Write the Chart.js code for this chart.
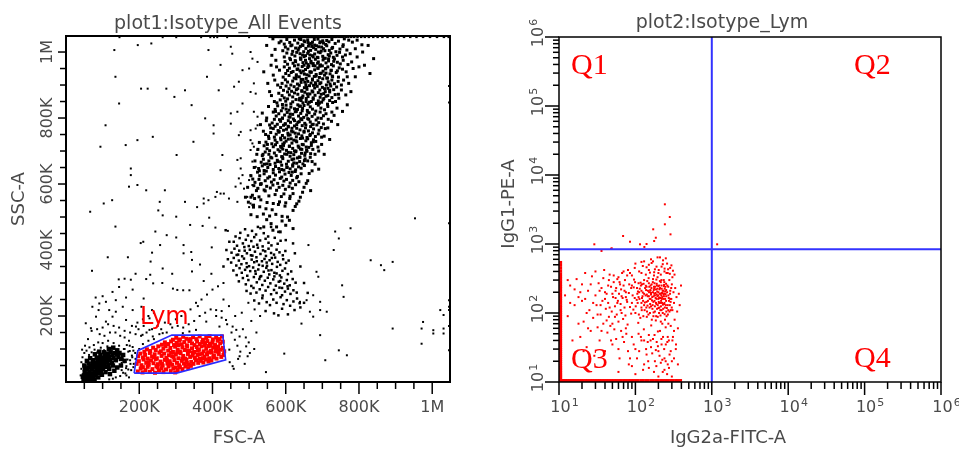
<!DOCTYPE html>
<html>
<head>
<meta charset="utf-8">
<script src="https://cdn.jsdelivr.net/npm/chart.js@4.4.1/dist/chart.umd.min.js"></script>
<style>
  html, body { margin: 0; padding: 0; background: #fff; }
  #wrap { position: relative; width: 959px; height: 450px; }
  canvas { position: absolute; top: 0; }
  #plot1 { left: 0; }
  #plot2 { left: 480px; }
</style>
</head>
<body>
<div id="wrap">
  <canvas id="plot1" width="480" height="450" style="width:480px;height:450px"></canvas>
  <canvas id="plot2" width="479" height="450" style="width:479px;height:450px"></canvas>
</div>
<script>
// ---- plot1: FSC-A / SSC-A, values in thousands (K) ----
const linTickValues = [200, 400, 600, 800, 1000];
const linTickLabels = ["200K", "400K", "600K", "800K", "1M"];
const linMax = 1048.576;

// Lym gate vertices (FSC K, SSC K)
const lymGate = [[186, 27], [196, 95], [289, 142], [428, 142], [436, 67], [302, 27]];

const gateEvents = [
  [196,32],[204,41],[209,29],[217,36],[223,46],[229,31],[236,39],[243,28],[247,48],[254,35],[261,42],[266,30],[273,38],[280,47],[286,33],[293,41],[298,29],[305,36],[311,45],[318,39],[326,47],[334,42],[341,49],
  [193,55],[199,63],[206,51],[212,68],[219,58],[226,52],[232,65],[239,57],[245,69],[251,54],[258,62],[264,50],[270,67],[277,56],[283,63],[290,52],[296,66],[303,58],[309,51],[316,64],[322,56],[329,67],[335,53],[342,61],[348,55],[355,66],[361,58],[368,64],[375,59],[382,68],[389,62],[397,65],
  [197,78],[203,86],[210,74],[216,82],[223,71],[229,88],[235,77],[242,84],[248,72],[255,89],[261,79],[268,86],[274,73],[281,81],[287,89],[294,76],[300,84],[307,72],[313,87],[320,79],[326,71],[333,85],[339,76],[346,88],[352,73],[359,82],[365,70],[372,86],[378,77],[385,84],[391,72],[398,89],[404,79],[411,71],[417,85],[424,76],[430,82],
  [214,92],[221,99],[230,94],[238,104],[245,97],[252,108],[259,93],[266,101],[272,109],[279,95],[285,103],[292,91],[298,107],[305,98],[311,92],[318,105],[324,97],[331,109],[337,94],[344,102],[350,91],[357,106],[363,98],[370,108],[376,93],[383,101],[389,109],[396,95],[402,104],[409,92],[415,107],[421,98],[428,103],[432,93],
  [262,113],[270,120],[279,115],[287,123],[295,112],[302,119],[309,125],[316,114],[323,121],[330,111],[337,124],[344,117],[351,112],[358,123],[365,115],[372,121],[379,111],[386,124],[393,116],[400,120],[407,112],[414,125],[421,117],[428,122],
  [292,128],[301,134],[311,129],[320,137],[329,131],[338,127],[347,136],[356,130],[365,138],[374,128],[383,134],[392,139],[401,129],[410,135],[419,130],[426,138],
  [250,44],[262,55],[276,66],[290,78],[304,90],[318,70],[332,96],[346,80],[360,95],[374,72],[388,90],[402,75],[416,95],[306,112],[340,130],[380,118],[410,100],[240,75],[225,60],[210,45],[300,44],[285,56],[330,58],[365,84],[395,110]
];

const debrisEvents = [
  [48,8],[49,20],[51,30],[53,12],[55,4],[56,24],[58,38],[60,14],[61,44],[63,6],[64,30],[66,20],[67,48],[69,10],[70,38],[72,26],[73,54],[75,16],[76,44],[78,32],[80,58],[81,22],[83,48],[85,36],[86,64],[88,28],[90,54],[91,42],[93,70],[95,34],[96,60],[98,48],[100,74],[101,40],[103,64],[105,54],[107,80],[108,46],[110,70],[112,60],[114,86],[116,52],[118,76],[120,66],[122,90],[125,58],[127,82],[130,72],[133,88],[136,66],[139,84],[143,76],
  [58,2],[68,2],[78,8],[88,14],[98,22],[108,30],[118,40],[128,50],[52,40],[46,16],[62,56],[74,66],[84,74],[94,82],[104,90],[140,96],[146,88],[150,70],
  [50,50],[57,64],[66,72],[79,84],[91,92],[117,100],[129,104],[156,82],[160,64],[150,50],[132,34],[120,24],[140,44]
];

const mainEvents = [
  [587,1033],[596,1024],[603,1038],[611,1029],[617,1021],[624,1036],[633,1027],[637,1040],[645,1022],[652,1031],[660,1037],[664,1025],[673,1030],[679,1021],[688,1039],[693,1028],[701,1034],[709,1023],[718,1031],[726,1038],[735,1026],[744,1033],[757,1022],[772,1036],
  [592,1004],[599,1015],[606,1009],[614,1019],[619,1002],[627,1012],[634,1006],[640,1017],[649,1001],[655,1011],[662,1018],[668,1005],[676,1013],[682,1008],[690,1016],[697,1003],[703,1010],[712,1019],[719,1005],[728,1014],[737,1001],[748,1009],[756,1017],[767,1006],
  [596,985],[603,997],[611,981],[617,993],[625,988],[630,999],[640,982],[646,991],[650,986],[660,996],[665,980],[673,989],[679,994],[688,983],[694,998],[701,987],[708,981],[716,992],[723,997],[730,984],[740,990],[747,999],[755,985],[763,991],
  [598,971],[605,963],[613,977],[620,966],[626,974],[634,961],[641,979],[647,968],[654,975],[661,962],[669,972],[675,965],[681,978],[689,970],[695,961],[702,976],[710,967],[717,973],[725,962],[733,979],[741,969],[749,964],[757,975],
  [596,955],[605,944],[610,951],[620,941],[624,958],[633,949],[639,943],[645,956],[654,947],[660,953],[666,940],[675,959],[679,946],[688,951],[693,957],[702,942],[709,950],[715,955],[724,945],[730,958],[741,943],[746,952],[755,948],
  [593,924],[600,935],[609,929],[615,938],[623,921],[629,931],[637,925],[642,937],[651,933],[656,920],[664,928],[670,939],[678,926],[683,932],[692,923],[697,936],[706,930],[712,921],[721,934],[727,927],[738,938],[744,924],
  [590,905],[599,916],[605,909],[614,900],[619,912],[628,919],[632,903],[642,908],[647,917],[655,901],[660,911],[669,906],[673,918],[682,902],[688,913],[696,907],[701,919],[711,900],[716,910],[726,915],[733,904],[743,911],
  [586,893],[594,884],[601,897],[609,889],[616,881],[623,895],[629,886],[637,899],[644,883],[651,892],[658,887],[665,898],[672,882],[679,891],[686,896],[693,885],[700,893],[708,880],[715,890],[723,897],[731,886],[739,894],
  [581,875],[590,868],[596,861],[605,879],[610,870],[619,864],[624,876],[633,872],[638,860],[647,867],[652,878],[661,865],[666,873],[675,861],[680,869],[689,877],[694,863],[704,874],[710,866],[720,879],[726,862],[735,871],
  [576,846],[585,855],[591,841],[600,851],[605,858],[614,843],[619,849],[628,856],[633,840],[642,853],[647,846],[656,859],[661,842],[670,850],[675,857],[684,844],[689,852],[698,848],[704,859],[714,842],[720,853],[728,847],
  [571,826],[578,837],[588,822],[592,831],[601,839],[609,824],[614,833],[624,828],[629,820],[637,836],[646,829],[650,838],[659,823],[667,834],[673,827],[682,821],[689,839],[696,830],[706,825],[715,835],
  [566,818],[574,806],[581,813],[591,800],[597,809],[604,817],[612,803],[619,811],[626,819],[635,806],[641,814],[649,802],[657,809],[664,816],[672,805],[679,812],[688,800],[694,818],[703,807],[710,813],
  [563,785],[569,796],[577,781],[586,790],[591,799],[599,783],[607,792],[613,787],[621,797],[630,780],[637,789],[644,795],[652,784],[660,798],[667,788],[675,781],[683,794],[690,786],[697,799],[703,782],
  [556,779],[566,768],[571,775],[579,762],[586,771],[594,778],[602,766],[607,773],[616,760],[624,776],[630,769],[639,764],[645,777],[654,770],[662,761],[668,774],[676,767],[685,779],[691,763],[697,771],
  [553,745],[559,756],[569,742],[574,751],[582,759],[591,747],[597,740],[606,754],[612,749],[620,758],[629,743],[635,752],[644,746],[650,757],[658,741],[667,750],[673,755],[681,744],[689,752],
  [546,727],[554,738],[562,722],[571,733],[576,726],[586,739],[592,721],[601,730],[607,736],[617,724],[622,733],[630,728],[640,738],[645,720],[655,731],[660,737],[670,725],[676,734],[682,729],
  [541,716],[549,707],[556,701],[566,713],[572,719],[579,704],[589,710],[594,717],[602,702],[610,714],[619,708],[624,700],[634,715],[640,706],[648,719],[657,703],[663,711],[670,717],[674,705],
  [536,686],[544,697],[554,690],[559,681],[569,694],[574,686],[584,699],[589,683],[597,691],[607,696],[612,684],[622,689],[627,698],[637,682],[643,693],[652,687],[658,699],[667,681],
  [533,666],[539,675],[549,661],[554,670],[562,679],[571,663],[577,672],[586,667],[592,677],[602,660],[607,669],[617,674],[622,664],[632,679],[638,668],[647,661],[653,676],[660,670],
  [526,647],[536,655],[541,641],[551,650],[557,659],[566,644],[572,653],[581,647],[589,657],[595,642],[604,651],[612,646],[619,658],[627,643],[635,652],[642,648],[651,656],
  [523,636],[529,625],[541,631],[547,639],[556,622],[566,634],[572,627],[583,637],[589,621],[598,630],[609,635],[615,626],[626,638],[632,623],[642,631],
  [516,605],[527,614],[533,601],[544,610],[551,618],[561,606],[568,613],[578,602],[585,617],[595,609],[602,614],[612,603],[619,611],[630,619],[636,607],
  [513,595],[524,587],[531,599],[541,582],[548,593],[558,588],[565,597],[575,581],[582,590],[592,596],[599,584],[609,592],[618,587],[627,598],
  [509,566],[527,561],[544,579],[554,564],[571,568],[588,562],[595,570],[612,563],[620,571],
  [515,556],[532,552],[549,544],[566,541],[583,546],[600,543],[611,556],
  [512,536],[529,531],[546,525],[563,522],[580,538],[598,533],
  [505,507],[522,501],[539,509],[556,503],[573,508],[590,502],
  [548,1020],[562,990],[571,1008],[575,955],[582,1028],[566,930],[578,900],[556,880],[569,850],[551,905],[560,960],[540,940],[572,820],[548,800],[559,770],[536,815],[545,750],[531,780],[550,720],[538,690],[524,705],[542,660],[528,640],[516,670],[532,600],[520,580],[510,615],[505,560],[512,530],[498,545],
  [782,1030],[790,1010],[776,995],[795,985],[770,962],[784,950],[765,940],[800,955],[758,915],[772,905],[790,925],[752,885],[764,870],[745,860],[778,880],[740,830],[755,820],[732,808],[768,840],[725,790],[742,780],[715,770],[705,745],[720,735],[698,720],[690,700],[705,690],[680,660],[672,640],[690,645],[660,610],[650,590],[668,580],[640,560],[630,540],[620,520],[605,500],[810,1000],[825,1020],[840,980],[815,960],[830,935],
  [565,1040],[573,975],[583,945],[570,915],[561,868],[553,835],[547,792],[539,760],[528,726],[521,690],[514,650],[505,625],[496,590],[490,560],[760,1040],[795,1036],[808,1022],[780,970],[768,925],[752,900],[744,872],[736,850],[726,818],[716,796],[708,768],[698,742],[688,712],[680,690],[672,668],[664,632],[656,602],[646,575],[636,548],[626,532],
  [662,1002],[641,978],[703,1027],[688,951],[650,1034],[719,988],[673,915],[631,947],[697,872],[657,893],[726,1011],[684,1019],[645,862],[710,936],[669,967],[636,1012],[693,904],[654,989],[715,868],[678,1038],[629,926],[700,958],[665,848],[721,903],[647,1020],[686,984],[658,931],[707,1004],[674,879],[639,995],[731,972],[692,845],[661,1029],[714,921],[680,958],[652,909],[698,1015],[668,939],[627,971],[724,944],[644,881],[689,1000],[706,889],[671,1017],[637,855],[717,979],[683,927],[656,967],[702,855],[666,991],[694,935],[641,1038],[728,925],[676,899],[648,942],[712,1035],[659,873],[687,966],[633,889],[704,981],[670,1026],[650,960],[720,884],[681,907],[663,957],[695,1031],[642,917],[709,949],[675,985],[656,850],
  [612,812],[594,763],[641,798],[628,731],[603,690],[655,779],[619,654],[587,734],[644,705],[632,826],[598,781],[666,747],[610,715],[578,668],[651,671],[624,792],[607,748],[639,681],[592,706],[660,818],[617,769],[583,795],[646,739],[630,663],[601,827],[672,780],[614,695],[589,644],[656,712],[626,754],[640,836],[596,725],[668,692],[609,803],[622,676],[581,757],[650,760],[636,711],[603,650],[663,796],[615,737],[591,682],[645,822],[628,700],[607,775],[675,728],[618,636],[586,714],[653,694],[633,787],
  [560,480],[575,470],[590,488],[548,492],[600,475],[585,455],[565,460],[610,490],[540,470],[620,465]
];

const midEvents = [
  [476,452],[489,463],[497,444],[508,458],[519,447],[531,466],[540,451],[552,441],[463,441],[524,470],
  [458,425],[467,413],[474,436],[483,420],[491,431],[499,412],[506,427],[514,439],[522,416],[530,429],[537,411],[545,434],[553,422],[561,414],[570,437],[578,419],[586,428],
  [452,392],[460,404],[466,385],[473,398],[481,381],[487,409],[494,390],[502,401],[509,383],[516,395],[524,407],[531,388],[538,399],[546,382],[553,404],[560,391],[568,386],[575,401],[583,393],[592,384],[599,397],
  [451,362],[458,376],[465,353],[472,368],[479,357],[486,374],[493,360],[500,351],[507,371],[514,363],[520,378],[527,355],[535,366],[542,373],[549,352],[556,369],[563,358],[571,377],[578,364],[585,355],[593,372],[601,361],[608,368],
  [457,338],[466,324],[474,345],[480,331],[489,340],[495,322],[503,336],[511,347],[518,328],[525,341],[533,321],[540,334],[547,346],[555,326],[561,339],[569,331],[576,349],[584,323],[591,337],[598,344],[606,327],[615,335],
  [472,305],[483,315],[491,296],[498,309],[506,291],[513,318],[521,302],[528,312],[536,294],[543,307],[551,316],[558,299],[566,311],[573,292],[581,304],[588,317],[596,298],[603,309],[611,293],[619,312],[627,301],
  [493,276],[504,268],[512,285],[520,271],[529,281],[537,262],[545,277],[552,288],[560,266],[568,279],[575,270],[583,286],[590,263],[598,274],[606,283],[613,267],[621,278],[630,271],
  [514,247],[527,238],[536,254],[548,242],[557,233],[566,250],[575,240],[586,257],[594,236],[603,248],[612,231],[621,244],[631,253],[638,239],
  [545,215],[568,208],[590,222],[606,205],[624,218],[640,226],[580,202],
  [438,400],[442,372],[446,425],[430,350],[436,460],[625,390],[640,350],[650,300],[660,270],[620,420],[600,430],[580,455],[560,470],[650,240],
  [488,398],[505,384],[521,366],[537,352],[553,338],[569,320],[585,306],[470,386],[512,410],[544,396],[562,376],[530,319],[575,329],[494,348],[517,336],[548,362],[590,285],[605,290]
];

// events piled on the SSC ceiling
const ceilingX = [556,562,567,571,574,579,583,586,590,593,597,600,603,606,609,612,614,617,620,623,625,628,631,634,636,639,642,645,647,650,653,655,658,661,664,667,669,672,675,678,681,684,687,690,694,697,701,704,708,712,716,720,725,729,734,739,745,751,757,764,771,779,787,796,806,816,827,839,851,864,878,893,907,923,940,957,975,994,1013,1032,1045];
const ceilingY = 1046;

const sparseEvents = [
  [146,1045],[264,1045],[301,1045],[369,1045],[394,1045],[404,1045],[413,1045],[440,1045],[500,1045],[196,1021],[233,1026],
  [132,1006],[389,1006],[450,1016],[454,995],[504,1000],[509,980],[523,970],[422,961],[482,945],[500,950],[135,925],[385,925],[472,910],[459,895],[513,905],
  [205,889],[223,889],[274,889],[325,884],[417,884],[504,879],[518,874],[296,864],[145,844],[343,839],[482,844],[450,814],[468,819],[513,819],[523,804],[380,799],
  [108,778],[403,778],[450,783],[523,778],[518,768],[477,758],[504,763],[472,748],[403,753],[237,743],[195,733],[348,728],[94,713],[163,718],[504,733],[509,723],[513,713],[504,703],[523,703],
  [302,688],[427,688],[468,673],[477,678],[509,668],[177,647],[477,647],[518,652],[177,627],[422,642],[482,627],[504,627],[472,617],[500,612],[195,597],[172,592],[463,592],[477,602],[509,597],[523,587],
  [219,581],[270,581],[412,576],[422,571],[431,571],[486,586],[408,561],[445,556],[376,556],[389,551],[126,551],[103,541],[325,546],[256,546],[376,541],[468,546],[495,561],[504,541],[509,536],[358,530],[500,530],[252,520],
  [953,496],[1046,481],[777,466],[735,456],[745,435],[662,415],[731,400],[832,369],[860,354],[892,364],[869,339],[684,334],[689,319],[754,293],[758,258],[675,263],[657,248],[694,243],[639,243],[694,218],[666,213],[712,213],[675,198],[643,177],[694,142],
  [892,162],[975,182],[971,162],[1003,157],[1003,147],[1031,162],[1031,147],[1022,218],[1031,203],[1046,248],[1046,228],[1046,218],[1046,170],[1046,96],[971,116],[745,96],[767,81],[708,66],[596,86],[546,30],[1046,897],[1046,847],
  [66,516],[135,471],[264,505],[301,501],[339,476],[244,456],[275,445],[211,425],[204,421],[235,392],[257,415],[301,438],[321,415],[321,390],[342,394],[344,370],[114,378],[169,378],[71,337],[144,311],[160,313],[177,310],[190,328],[219,312],[230,325],[231,365],[264,344],[290,328],
  [238,299],[263,300],[292,283],[304,279],[320,278],[337,278],[366,356],[344,335],[397,328],[376,306],[398,408],[391,498],[408,468],[442,458],[373,473],[145,288],[127,273],[100,260],[81,256],[91,238],[109,243],[212,253],[136,248],[182,280],[164,256],
  [118,218],[89,218],[72,228],[136,213],[155,228],[182,218],[206,228],[235,218],[127,198],[82,198],[54,178],[68,163],[109,183],[164,188],[191,168],[228,193],[410,218],[383,183],[419,168],[437,188],[455,168],[474,138],[446,98],[474,78],[455,48],[492,108],[496,78],[465,158],[355,158],[337,153],[319,148],[228,158],[209,143],[237,138],[264,148],
  [440,175],[452,150],[461,128],[468,110],[476,92],[483,160],[491,135],[499,120],[506,185],[514,100],[447,60],[458,40],[470,70],[488,55],[502,88],[520,150],[530,200],[515,220],[498,240],[480,210],[462,200],[445,230],[430,250],[425,195],
  [42,60],[45,75],[50,88],[56,95],[63,82],[70,90],[78,98],[86,92],[95,104],[104,96],[113,108],[122,94],[131,102],[140,92],[148,84],[155,72],[160,60],[165,48],[170,38],[175,66],[180,80],[185,55],[158,100],[166,112],[174,94],[182,106],[152,36],[162,26],[172,14],[148,18],[136,14],[128,10],[118,8],[190,70],[189,88],[145,110],[130,118],[115,125],[100,118],[88,120],[76,112],[64,105],[52,110],[44,98],[40,20],[42,40],
  [200,100],[210,115],[225,125],[240,130],[255,145],[172,125],[160,135],[148,140],[135,150],[120,150],[105,140],[92,145],[85,160],[70,155],[60,130],[100,165],[115,175],[130,170],[145,165],[160,155],[175,150],[190,145],[205,140],[220,150],[235,160],[250,170],[270,180],[285,175],[300,190],[315,200],[180,170],[195,180],[210,190],[225,200],[240,210],[198,160],[212,170],[260,160],[275,150],[290,165],[305,170],[320,165],[335,175],[350,185],[365,200],[380,210],[395,220],[410,200],[425,215],[340,220],[355,240],[370,250],[385,265],[400,280],[415,290],[430,300],[360,230],
  [152,58],[158,80],[164,42],[170,92],[176,55],[181,75],[168,68],[160,100],[174,110],[184,95],[156,28],[165,20],[178,36],[184,45]
];

// ---- plot2: IgG2a-FITC-A / IgG1-PE-A (log) ----
const logDecades = [10, 100, 1000, 10000, 100000, 1000000];
const logExponents = ["1", "2", "3", "4", "5", "6"];
const quadX = 1000;
const quadY = 840;

const lymCore = [
  [72,210],[78,145],[83,260],[88,98],[92,180],[96,305],[101,125],[105,230],[109,72],[113,160],[117,275],[121,110],[125,198],[129,58],[133,142],[137,248],[141,88],[145,175],[149,320],[153,120],[157,215],[161,66],[165,152],[169,280],[173,102],[177,190],[181,240],[185,78],[189,135],[193,205],[197,54],[201,118],[205,168],[209,290],[213,92],[217,150],[221,225],[225,70],[229,132],[233,185],[237,255],[241,96],[245,160],[249,62],[253,215],[258,118],
  [75,170],[85,122],[95,235],[104,155],[112,200],[120,140],[128,265],[136,180],[144,128],[152,240],[160,185],[168,130],[176,225],[184,165],[192,115],[200,245],[208,190],[216,125],[224,170],[232,210],[240,140],[248,188],[82,195],[98,165],[114,225],[130,190],[146,210],[162,230],[178,150],[194,175],[210,140],[226,195],[242,225],[90,140],[106,190],[122,165],[138,215],[154,160],[170,200],[186,220],[202,145],[218,180],[234,160],[250,130],
  [100,100],[116,85],[132,110],[148,95],[164,80],[180,105],[196,88],[212,110],[228,100],[244,80],[150,270],[170,310],[190,265],[210,230],[130,300],[110,270],[90,250],[175,350],[155,385],[195,330],[215,280],[235,300],[140,145],[160,125],[180,180],[200,200],[120,120],[220,250],[186,140],[166,170],[146,150],[206,165],
  [88,230],[94,112],[99,280],[107,140],[111,95],[118,250],[124,175],[127,90],[134,230],[139,120],[143,290],[151,200],[155,100],[158,160],[163,260],[167,115],[172,145],[178,270],[183,195],[187,90],[191,250],[196,130],[199,180],[204,100],[207,220],[211,165],[215,75],[219,300],[223,140],[227,210],[231,115],[236,175],[239,280],[243,120],[247,240],[252,150],[256,90],[260,200],[265,130],[269,240],[273,165],[279,105],[284,190],[289,145],[294,230],[299,120],
  [108,205],[122,260],[141,185],[157,210],[173,175],[189,160],[205,250],[221,195],[237,135],[253,175],[269,110],[285,160],[140,240],[156,135],[172,90],[188,305],[204,140],[220,110],[236,245],[252,265],[110,170],[126,150],[142,105],[158,250],[174,215],[190,185],[206,120],[222,160],[238,190],[254,105],[180,125],[200,160],[160,195],[120,210],[215,190],[245,205],[195,225],[175,240],[150,175],[130,130]
];

const lymSpread = [
  [26,260],[28,140],[30,400],[32,95],[34,210],[36,55],[38,320],[40,160],[42,78],[44,250],[46,120],[48,40],[50,190],[52,350],[54,88],[56,230],[58,140],[60,30],[62,280],[64,110],[66,175],[68,45],[70,400],[55,165],[45,300],[35,130],[65,220],[50,70],[40,200],[60,330],
  [262,250],[266,95],[270,180],[274,40],[278,300],[282,130],[286,210],[290,65],[295,160],[300,260],[305,110],[310,45],[315,200],[320,140],[326,80],[332,230],[338,30],[345,170],[352,105],[360,60],[370,190],[380,130],[395,250],[265,380],[275,150],[290,110],[305,330],[320,55],
  [280,25],[300,20],[265,18],[240,22],[220,35],[200,28],[180,20],[160,32],[140,25],[120,40],[100,30],[85,22],[75,60],[90,45],[110,50],[130,40],[150,48],[170,42],[190,38],[210,55],[230,45],[250,35],[270,70],
  [80,420],[100,520],[120,380],[140,460],[160,600],[180,430],[200,380],[220,470],[240,400],[260,520],[130,560],[90,350],[210,640],[150,500],[250,620],[285,450],
  [12,180],[13,90],[14,250],[15,40],[16,130],[17,310],[18,70],[19,200],[20,150],[21,28],[22,380],[23,100],[24,60],[18,170],[14,140],[16,220],[20,260],[13,300],
  [60,14],[100,13],[150,16],[200,12],[240,15],[130,18],[175,14],[90,17],[215,19],[260,13],
  [19,45],[21,75],[22,160],[23,32],[24,210],[25,110],[26,55],[27,340],[28,85],[29,24],[30,180],[31,130],[32,62],[33,270],[34,40],[35,95],[36,230],[37,150],[38,70],[39,420],[40,28],[41,115],[42,190],[43,52],[44,140],[45,88],[46,360],[47,65],[48,240],[49,105],[50,35],[51,170],[52,280],[53,58],[54,125],[55,210],[56,42],[57,95],[58,310],[59,150],[60,75],[61,190],[62,22],[63,260],[64,135],[65,55],[66,100],[67,380],[68,165],[69,82],[70,250],[71,38],[72,120],[73,300],[74,92],[75,200],[76,50],[77,155],[78,350],[79,68],[80,28],
  [82,18],[95,35],[105,22],[118,45],[126,15],[138,30],[147,20],[158,40],[166,26],[178,48],[188,17],[197,33],[207,24],[219,42],[228,14],[238,30],[249,20],[262,38],[275,16],[290,28],[305,40],[320,22],[340,35],[360,18],[112,28],[145,38],[185,29],[225,21],[265,45],[300,12],
  [85,380],[98,450],[112,400],[125,480],[137,360],[150,420],[163,530],[176,390],[189,470],[202,420],[215,360],[228,510],[241,440],[255,380],[268,430],[282,370],[296,490],[310,410],[325,360],[170,560],[230,580],[195,640],[120,550]
];

const lymAbove = [[243,3760],[282,2460],[243,1930],[288,1380],[171,1633],[185,1233],[176,1104],[69,1306],[85,1079],[115,990],[140,1000],[29,990],[131,906],[49,866],[36,793],[1175,990],[48,851]];

// events piled on the axis minimum
const pileAtMinX = [10.7,11.2,11.9,12.4,13.1,13.8,14.6,15.5,16.3,17.4,18.6,19.8,21.1,22.7,24.2,25.9,27.8,29.6,31.9,34.2,36.5,39.4,42.1,45.3,48.6,52.4,56.1,60.7,65.2,70.4,75.9,81.3,88,94.6,102,110,119,128,139,150,162,175,190,206,223,242,262,285,310,338,370,405,445,490,540];
const pileAtMinY = [10.6,11.1,11.7,12.2,12.9,13.6,14.4,15.2,16.1,17.2,18.3,19.5,20.8,22.3,23.8,25.5,27.4,29.3,31.6,33.9,36.4,39.2,42,45.3,48.7,52.3,56.4,60.5,65.3,70.2,75.6,81.4,87.7,94.3,101.6,109,118,127,137,147,159,171,184,198,214,230,248,268,289,311,336,362,390];
const pileValue = 10.5;

// ---- drawing helpers ----
const TEXT = "#4a4a4a";
const FONT = '"DejaVu Sans", sans-serif';

function dots(data, color, side) {
  return {
    data: data.map(([x, y]) => ({ x, y })),
    pointStyle: "rect",
    pointRadius: side / Math.SQRT2,
    pointBackgroundColor: color,
    pointBorderWidth: 0,
    showLine: false,
  };
}

function outline(points, color, width) {
  return {
    data: points.map(([x, y]) => ({ x, y })),
    showLine: true,
    borderColor: color,
    borderWidth: width,
    pointRadius: 0,
    fill: false,
    tension: 0,
  };
}

function label(ctx, str, x, y, font, color, align, rotate) {
  ctx.save();
  ctx.translate(x, y);
  if (rotate) ctx.rotate(-Math.PI / 2);
  ctx.font = font;
  ctx.fillStyle = color;
  ctx.textAlign = align || "center";
  ctx.textBaseline = "alphabetic";
  ctx.fillText(str, 0, 0);
  ctx.restore();
}

function power(ctx, exp, x, y, rotate) {
  ctx.save();
  ctx.translate(x, y);
  if (rotate) ctx.rotate(-Math.PI / 2);
  ctx.fillStyle = TEXT;
  ctx.textBaseline = "alphabetic";
  ctx.font = "16px " + FONT;
  ctx.textAlign = "center";
  ctx.fillText("10", 0, 0);
  const w = ctx.measureText("10").width;
  ctx.font = "11px " + FONT;
  ctx.textAlign = "left";
  ctx.fillText(exp, w / 2 + 1, -6);
  ctx.restore();
}

function tickLine(ctx, x1, y1, x2, y2) {
  ctx.beginPath();
  ctx.moveTo(x1, y1);
  ctx.lineTo(x2, y2);
  ctx.stroke();
}

const axisScale = (type, max, size, isX) => ({
  type: type,
  min: type === "logarithmic" ? 10 : 0,
  max: max,
  ticks: { display: false },
  grid: { display: false },
  border: { display: false },
  afterFit: (s) => { if (isX) s.height = size; else s.width = size; },
});

const baseOptions = (padding) => ({
  responsive: false,
  animation: false,
  events: [],
  layout: { padding: padding },
  plugins: { legend: { display: false }, title: { display: false }, tooltip: { enabled: false } },
});

// ---- plot1 ----
const linMinor = [];
for (let v = 50; v <= 1000; v += 50) linMinor.push(v);

const plot1Decor = {
  id: "plot1Decor",
  afterDatasetsDraw(chart) {
    const { ctx, chartArea: a, scales: { x, y } } = chart;
    ctx.save();
    ctx.strokeStyle = "#000";
    ctx.lineWidth = 1.5;
    linMinor.forEach((v) => {
      const major = linTickValues.includes(v);
      const px = x.getPixelForValue(v);
      tickLine(ctx, px, a.bottom, px, a.bottom + (major ? 12 : 7));
      const py = y.getPixelForValue(v);
      tickLine(ctx, a.left, py, a.left - (major ? 8 : 6), py);
    });
    ctx.lineWidth = 2;
    ctx.strokeRect(a.left, a.top, a.right - a.left, a.bottom - a.top);
    ctx.restore();

    linTickValues.forEach((v, i) => {
      label(ctx, linTickLabels[i], x.getPixelForValue(v), 411.5, "16px " + FONT, TEXT, "center");
      label(ctx, linTickLabels[i], 52, y.getPixelForValue(v), "16px " + FONT, TEXT, "center", true);
    });
    label(ctx, "plot1:Isotype_All Events", 228, 28.5, "19px " + FONT, TEXT, "center");
    label(ctx, "FSC-A", 239, 443, "18px " + FONT, TEXT, "center");
    label(ctx, "SSC-A", 23.5, 199, "18px " + FONT, TEXT, "center", true);
    label(ctx, "Lym", 140, 324, "24px " + FONT, "#ff0000", "left");
  },
};

new Chart(document.getElementById("plot1"), {
  type: "scatter",
  data: {
    datasets: [
      outline(lymGate.concat([lymGate[0]]), "#2b2bff", 1.6),
      dots(gateEvents, "#ff0000", 4),
      dots(debrisEvents, "#000", 4.5),
      dots(mainEvents, "#000", 3),
      dots(midEvents, "#000", 2.5),
      dots(ceilingX.map((v) => [v, ceilingY]), "#000", 2.5),
      dots(sparseEvents, "#000", 2),
    ],
  },
  options: Object.assign(baseOptions({ left: 0, top: 36, right: 30, bottom: 0 }), {
    scales: {
      x: axisScale("linear", linMax, 68, true),
      y: axisScale("linear", linMax, 66, false),
    },
  }),
  plugins: [plot1Decor],
});

// ---- plot2 ----
const logMinor = [];
logDecades.slice(0, -1).forEach((d) => { for (let m = 2; m <= 9; m++) logMinor.push(d * m); });

const plot2Decor = {
  id: "plot2Decor",
  afterDatasetsDraw(chart) {
    const { ctx, chartArea: a, scales: { x, y } } = chart;
    ctx.save();
    ctx.strokeStyle = "#000";
    ctx.lineWidth = 1.5;
    logDecades.forEach((v) => {
      const px = x.getPixelForValue(v);
      tickLine(ctx, px, a.bottom, px, a.bottom + 13);
      const py = y.getPixelForValue(v);
      tickLine(ctx, a.left, py, a.left - 14, py);
    });
    logMinor.forEach((v) => {
      const px = x.getPixelForValue(v);
      tickLine(ctx, px, a.bottom, px, a.bottom + 7);
      const py = y.getPixelForValue(v);
      tickLine(ctx, a.left, py, a.left - 6, py);
    });
    ctx.lineWidth = 1.5;
    ctx.strokeRect(a.left, a.top, a.right - a.left, a.bottom - a.top);
    ctx.restore();

    logDecades.forEach((v, i) => {
      power(ctx, logExponents[i], x.getPixelForValue(v) + 1.5, 411.5, false);
      power(ctx, logExponents[i], 63, y.getPixelForValue(v), true);
    });
    label(ctx, "plot2:Isotype_Lym", 242, 28, "19px " + FONT, TEXT, "center");
    label(ctx, "IgG2a-FITC-A", 248, 443, "18px " + FONT, TEXT, "center");
    label(ctx, "IgG1-PE-A", 34, 204, "18px " + FONT, TEXT, "center", true);
    const qFont = '30px "Liberation Serif", serif';
    label(ctx, "Q1", 91, 74, qFont, "#ff0000", "left");
    label(ctx, "Q2", 374, 74, qFont, "#ff0000", "left");
    label(ctx, "Q3", 91, 368, qFont, "#ff0000", "left");
    label(ctx, "Q4", 374, 367, qFont, "#ff0000", "left");
  },
};

new Chart(document.getElementById("plot2"), {
  type: "scatter",
  data: {
    datasets: [
      outline([[quadX, 10], [quadX, 1000000]], "#3333ff", 2),
      outline([[10, quadY], [1000000, quadY]], "#3333ff", 2),
      dots(lymCore, "#ff0000", 2),
      dots(lymSpread, "#ff0000", 2),
      dots(lymAbove, "#ff0000", 2),
      dots(pileAtMinX.map((v) => [pileValue, v]), "#ff0000", 3),
      dots(pileAtMinY.map((v) => [v, pileValue]), "#ff0000", 3),
    ],
  },
  options: Object.assign(baseOptions({ left: 0, top: 37, right: 18, bottom: 0 }), {
    scales: {
      x: axisScale("logarithmic", 1000000, 68, true),
      y: axisScale("logarithmic", 1000000, 79, false),
    },
  }),
  plugins: [plot2Decor],
});
</script>
</body>
</html>
